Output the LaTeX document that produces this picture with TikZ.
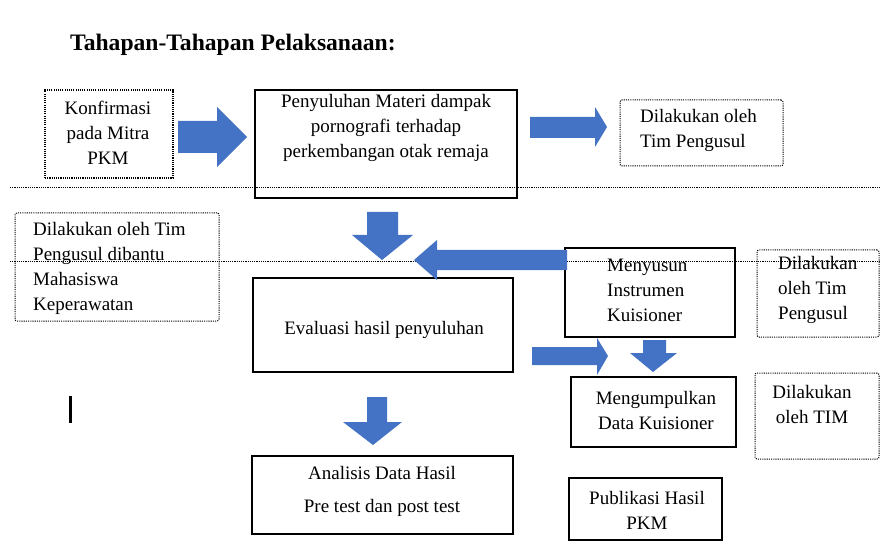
\documentclass[tikz,border=0pt]{standalone}
\usepackage{fontspec}
\setmainfont{Liberation Serif}
\definecolor{arrblue}{HTML}{4472C4}
\begin{document}
\begin{tikzpicture}[x=1pt,y=-1pt,
  sbox/.style={draw=black,line width=1.3pt,inner sep=0pt,outer sep=0pt,anchor=north west},
  dbox/.style={draw=black,dash pattern=on 1.1pt off 1.1pt,line width=1pt,rounded corners=2pt,inner sep=0pt,outer sep=0pt,anchor=north west},
  txt/.style={font=\fontsize{19}{25}\selectfont,inner sep=0pt,align=center},
  ltxt/.style={font=\fontsize{19}{25}\selectfont,inner sep=0pt,align=left,anchor=west},
  barrow/.style={fill=arrblue,draw=none},
  sepline/.style={draw=black,dash pattern=on 1.1pt off 1.1pt,line width=1pt}]
\useasboundingbox (0,0) rectangle (880,553);
% title
\node[anchor=base west,inner sep=0pt,font=\fontsize{23.6}{28}\selectfont\bfseries] (title) at (70,51) {Tahapan-Tahapan Pelaksanaan:};
% separator lines
\coordinate (l1a) at (10,188); \coordinate (l1b) at (880,188);
\coordinate (l2a) at (10,261); \coordinate (l2b) at (880,261);
\draw[sepline] (l1a) -- (l1b);
\draw[sepline] (l2a) -- (l2b);
% boxes
\node[dbox,line width=1.4pt,rounded corners=0pt,minimum width=128pt,minimum height=88pt] (konf) at (45,90) {};
\node[sbox,minimum width=262pt,minimum height=108pt] (peny) at (255,90) {};
\node[dbox,minimum width=163pt,minimum height=66pt] (dil1) at (620,100) {};
\node[dbox,minimum width=204pt,minimum height=108pt] (dil2) at (15,213) {};
\node[sbox,minimum width=260pt,minimum height=94pt] (eval) at (253,278) {};
\node[sbox,minimum width=170pt,minimum height=89pt] (meny) at (565,248) {};
\node[dbox,minimum width=122pt,minimum height=87pt] (dil3) at (757,250) {};
\node[sbox,minimum width=165pt,minimum height=70pt] (meng) at (571,377) {};
\node[dbox,minimum width=124pt,minimum height=86pt] (dil4) at (755,373) {};
\node[sbox,minimum width=261pt,minimum height=78pt] (anal) at (252,456) {};
\node[sbox,minimum width=153pt,minimum height=62pt] (pub) at (569,478) {};
% texts
\node[txt] (tkonf) at (108,133) {Konfirmasi\\pada Mitra\\PKM};
\node[txt] (tpeny) at (386,128) {Penyuluhan Materi dampak\\pornografi terhadap\\perkembangan otak remaja};
\node[ltxt] (tdil1) at (640,130) {Dilakukan oleh\\Tim Pengusul};
\node[ltxt] (tdil2) at (33,268) {Dilakukan oleh Tim\\Pengusul dibantu\\Mahasiswa\\Keperawatan};
\node[txt] (teval) at (384,330) {Evaluasi hasil penyuluhan};
\node[ltxt] (tmeny) at (607,290) {Menyusun\\Instrumen\\Kuisioner};
\node[ltxt] (tdil3) at (778,290) {Dilakukan\\oleh Tim\\Pengusul};
\node[txt] (tmeng) at (656,410) {Mengumpulkan\\Data Kuisioner};
\node[txt] (tdil4) at (812,404) {Dilakukan\\oleh TIM};
\node[txt] (tanal) at (382,491) {Analisis Data Hasil\\[8pt]Pre test dan post test};
\node[txt] (tpub) at (647,510) {Publikasi Hasil\\PKM};
% block arrows
\fill[barrow] (178,121) -- (217,121) -- (217,107) -- (247,137) -- (217,167) -- (217,153) -- (178,153) -- cycle;
\fill[barrow] (530,117) -- (595,117) -- (595,107) -- (607,127) -- (595,147) -- (595,138) -- (530,138) -- cycle;
\fill[barrow] (367,212) -- (398,212) -- (398,235) -- (413,235) -- (382,260) -- (352,235) -- (367,235) -- cycle;
\fill[barrow] (567,250) -- (437,250) -- (437,240) -- (414,260) -- (437,280) -- (437,270) -- (567,270) -- cycle;
\fill[barrow] (532,347) -- (597,347) -- (597,338) -- (608,356) -- (597,375) -- (597,365) -- (532,365) -- cycle;
\fill[barrow] (643,340) -- (666,340) -- (666,353) -- (677,353) -- (653,372) -- (630,353) -- (643,353) -- cycle;
\fill[barrow] (367,397) -- (387,397) -- (387,422) -- (402,422) -- (373,445) -- (343,422) -- (367,422) -- cycle;
% cursor bar
\fill[black] (69,396) rectangle (72,423);
\end{tikzpicture}
\end{document}
